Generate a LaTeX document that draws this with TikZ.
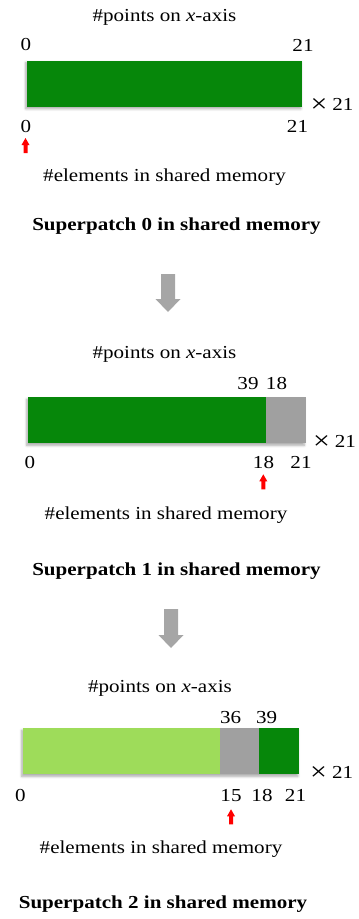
\documentclass[tikz,border=0pt]{standalone}
\usepackage{fontspec}
\setmainfont{Liberation Serif}[FakeStretch=1.15]
\usetikzlibrary{shadows.blur}
\definecolor{dgreen}{RGB}{6,135,10}
\definecolor{lgreen}{RGB}{158,220,90}
\definecolor{bgray}{RGB}{160,160,160}
\definecolor{agray}{RGB}{166,166,166}
\newcommand{\redup}[2]{\fill[red] (#1,#2) -- ++(4,7) -- ++(-2,0) -- ++(0,8) -- ++(-4,0) -- ++(0,-8) -- ++(-2,0) -- cycle;}
\newcommand{\graydown}[4]{\fill[agray] (#1-7,#2) -- (#1+7,#2) -- (#1+7,#3) -- (#1+12.5,#3) -- (#1,#4) -- (#1-12.5,#3) -- (#1-7,#3) -- cycle;}
\newcommand{\bigtimes}{\raisebox{-1.8pt}{\fontsize{26}{26}\selectfont ×}\hspace{5pt}}
\begin{document}
\begin{tikzpicture}[x=1pt,y=-1pt,
  txt/.style={inner sep=0pt,anchor=base,font=\fontsize{18.3}{20}\selectfont},
  ttl/.style={txt,font=\fontsize{18.3}{20}\selectfont\bfseries},
  barshadow/.style={blur shadow={shadow xshift=-1.5pt,shadow yshift=-2pt,shadow blur radius=2.5pt,shadow blur steps=6,shadow opacity=35}}]
\useasboundingbox (0,0) rectangle (359,919);
% ---------- Panel 0
\node[txt] (p0top) at (164.5,21) {\#points on \textit{x}-axis};
\node[txt] (p0a) at (25.8,50.7) {0};
\node[txt] (p0b) at (303,51.5) {21};
\fill[barshadow,dgreen] (27.3,60.7) rectangle (302.3,106.7);
\node[txt] (p0x) at (332,110.5) {\bigtimes 21};
\node[txt] (p0c) at (25.8,132) {0};
\node[txt] (p0d) at (297.5,132) {21};
\redup{25.5}{138}
\node[txt] (p0el) at (164.5,181.7) {\#elements in shared memory};
\node[ttl] (p0t) at (176.5,230) {Superpatch 0 in shared memory};
\graydown{168}{274}{299}{312}
% ---------- Panel 1
\node[txt] (p1top) at (164.5,358.3) {\#points on \textit{x}-axis};
\node[txt] (p1a) at (248,389.3) {39};
\node[txt] (p1b) at (276.5,389.3) {18};
\fill[barshadow,bgray] (28.3,397.3) rectangle (305.7,443.3);
\fill[dgreen] (28.3,397.3) rectangle (265.7,443.3);
\node[txt] (p1x) at (334.5,447.7) {\bigtimes 21};
\node[txt] (p1c) at (30,468.3) {0};
\node[txt] (p1d) at (263.5,468.3) {18};
\node[txt] (p1e) at (301,468.3) {21};
\redup{263.3}{474.3}
\node[txt] (p1el) at (166,519.3) {\#elements in shared memory};
\node[ttl] (p1t) at (176.5,575) {Superpatch 1 in shared memory};
\graydown{171}{609}{635}{648}
% ---------- Panel 2
\node[txt] (p2top) at (160,692.7) {\#points on \textit{x}-axis};
\node[txt] (p2a) at (230.7,723.3) {36};
\node[txt] (p2b) at (266.7,723.3) {39};
\fill[barshadow,dgreen] (23.3,728.3) rectangle (299.3,774.3);
\fill[lgreen] (23.3,728.3) rectangle (220,774.3);
\fill[bgray] (220,728.3) rectangle (259.3,774.3);
\node[txt] (p2x) at (331.7,778.3) {\bigtimes 21};
\node[txt] (p2c) at (20.5,801) {0};
\node[txt] (p2d) at (231,801) {15};
\node[txt] (p2e) at (262,801) {18};
\node[txt] (p2f) at (295.5,801) {21};
\redup{231}{809.3}
\node[txt] (p2el) at (161,853.3) {\#elements in shared memory};
\node[ttl] (p2t) at (163,908.3) {Superpatch 2 in shared memory};
\end{tikzpicture}
\end{document}
